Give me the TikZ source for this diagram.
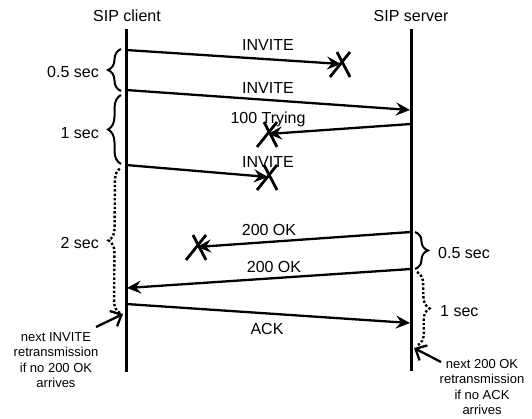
\documentclass[tikz,border=0pt]{standalone}
\usepackage{fontspec}
\setmainfont{Liberation Sans}
\usetikzlibrary{arrows.meta,decorations.pathreplacing}
\begin{document}
\begin{tikzpicture}[x=1pt,y=-1pt,
 life/.style={line width=3pt},
 msg/.style={line width=2.3pt,-{Stealth[length=14pt,width=13pt,inset=5pt]}},
 lbl/.style={font=\fontsize{16}{18}\selectfont, inner sep=0pt},
 note/.style={font=\fontsize{13}{15.5}\selectfont, align=center, inner sep=0pt},
 lost/.style={line width=2.8pt},
 brc/.style={line width=2pt, decorate, decoration={brace, amplitude=13pt}},
 dbrc/.style={line width=2.4pt, dotted, decorate, decoration={brace, amplitude=12pt}},
 hint/.style={line width=2.3pt, -{Straight Barb[length=9pt,width=17pt]}}]
\useasboundingbox (0,0) rectangle (532,419);
% lifelines
\coordinate (cTop) at (126,29); \coordinate (cBot) at (126,372);
\coordinate (sTop) at (411,29); \coordinate (sBot) at (411,371);
\draw[life] (cTop) -- (cBot);
\draw[life] (sTop) -- (sBot);
\node[lbl] (tc) at (127,16) {SIP client};
\node[lbl] (ts) at (411,16) {SIP server};
% message endpoints
\coordinate (m1s) at (126,50);  \coordinate (x1) at (341,64);
\coordinate (m2s) at (126,90);  \coordinate (m2e) at (410,110);
\coordinate (m3s) at (411,124); \coordinate (x2) at (268,134);
\coordinate (m4s) at (126,165); \coordinate (x3) at (268,177);
\coordinate (m5s) at (411,232); \coordinate (x4) at (197,247);
\coordinate (m6s) at (411,269); \coordinate (m6e) at (127,288);
\coordinate (m7s) at (126,304); \coordinate (m7e) at (410,323);
% messages
\draw[msg] (m1s) -- (x1);
\draw[msg] (m2s) -- (m2e);
\draw[msg] (m3s) -- (x2);
\draw[msg] (m4s) -- (x3);
\draw[msg] (m5s) -- (x4);
\draw[msg] (m6s) -- (m6e);
\draw[msg] (m7s) -- (m7e);
% lost marks
\foreach \p in {x1,x2,x3,x4}{
  \draw[lost] (\p) +(-11,13) -- +(9,-12);
  \draw[lost] (\p) +(-4,-12) -- +(9,13);
}
% labels
\node[lbl] (l1) at (268,45) {INVITE};
\node[lbl] (l2) at (268,88) {INVITE};
\node[lbl] (l3) at (268,119) {100 Trying};
\node[lbl] (l4) at (268,162) {INVITE};
\node[lbl] (l5) at (269,230) {200 OK};
\node[lbl] (l6) at (274,267) {200 OK};
\node[lbl] (l7) at (267,329) {ACK};
% braces left
\draw[brc] (121,91) -- (121,49);
\draw[brc] (121,164) -- (121,95);
\draw[dbrc] (120,313) -- (121,168);
\node[lbl, anchor=east] (b1) at (99,72) {0.5 sec};
\node[lbl, anchor=east] (b2) at (99,133) {1 sec};
\node[lbl, anchor=east] (b3) at (99,243) {2 sec};
% braces right
\draw[brc] (415,232) -- (415,269);
\draw[dbrc] (417,272) -- (418,345);
\node[lbl, anchor=west] (b4) at (438,253) {0.5 sec};
\node[lbl, anchor=west] (b5) at (440,311) {1 sec};
% notes
\node[note] (n1) at (56,360) {next INVITE\\retransmission\\if no 200 OK\\arrives};
\node[note] (n2) at (482,387) {next 200 OK\\retransmission\\if no ACK\\arrives};
\coordinate (h1s) at (96,327); \coordinate (h1e) at (123,314);
\coordinate (h2s) at (441,362); \coordinate (h2e) at (414,348);
\draw[hint] (h1s) -- (h1e);
\draw[hint] (h2s) -- (h2e);
\end{tikzpicture}
\end{document}
